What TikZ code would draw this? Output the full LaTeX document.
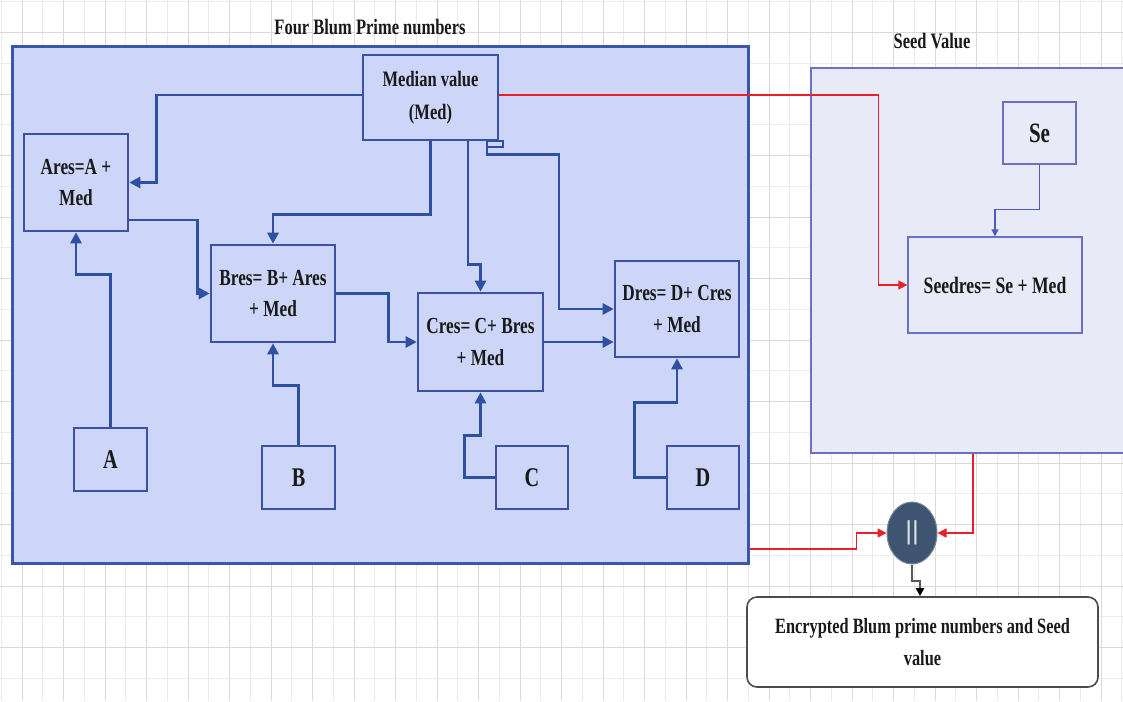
\documentclass[tikz,border=0pt]{standalone}
\usepackage{fontspec}
\setmainfont{Liberation Serif}
\newfontfamily\tnr[FakeStretch=0.75]{Liberation Serif}
\newfontfamily\lsans{Liberation Sans}
\usetikzlibrary{arrows.meta,calc,shapes.geometric}
\definecolor{bigfill}{RGB}{205,214,249}
\definecolor{bigdraw}{RGB}{60,86,168}
\definecolor{boxdraw}{RGB}{58,82,160}
\definecolor{conncol}{RGB}{46,80,160}
\definecolor{seedfill}{RGB}{232,234,247}
\definecolor{seeddraw}{RGB}{108,112,196}
\definecolor{seedconn}{RGB}{80,90,185}
\definecolor{redcol}{RGB}{232,32,42}
\definecolor{circfill}{RGB}{62,84,112}
\definecolor{textcol}{RGB}{25,25,25}
\definecolor{gridmaj}{RGB}{218,218,218}
\definecolor{gridmin}{RGB}{236,236,236}
\begin{document}
\begin{tikzpicture}[x=1pt,y=-1pt,
  txt/.style={font=\tnr\bfseries\fontsize{23}{31.5}\selectfont, text=textcol, align=center, inner sep=0pt},
  blubox/.style 2 args={txt, draw=boxdraw, fill=bigfill, line width=2.6pt, minimum width=#1, minimum height=#2},
  letterbox/.style={blubox={73}{63}, font=\tnr\bfseries\fontsize{27}{31}\selectfont},
  seedbx/.style 2 args={txt, draw=seeddraw, fill=seedfill, line width=1.4pt, minimum width=#1, minimum height=#2},
  conn/.style={draw=conncol, line width=2.7pt, -{Triangle[length=11pt,width=11pt]}},
  redconn/.style={draw=redcol, line width=1.6pt, -{Triangle[length=9pt,width=9pt]}},
  titletxt/.style={font=\tnr\bfseries\fontsize{22}{26}\selectfont, text=textcol, inner sep=0pt}
]
\useasboundingbox (0,0) rectangle (1123,701);
\clip (0,0) rectangle (1123,701);
\fill[white] (0,0) rectangle (1123,701);
% grid
\foreach \i in {0,...,54}{
  \pgfmathtruncatemacro{\odd}{mod(\i,2)}
  \ifnum\odd=1
    \draw[gridmaj, line width=0.8pt] ({1.25+\i*20.75},0) -- ({1.25+\i*20.75},701);
  \else
    \draw[gridmin, line width=0.8pt] ({1.25+\i*20.75},0) -- ({1.25+\i*20.75},701);
  \fi
}
\foreach \j in {0,...,22}{
  \pgfmathtruncatemacro{\odd}{mod(\j,2)}
  \ifnum\odd=1
    \draw[gridmaj, line width=0.8pt] (0,{1.7+\j*30.75}) -- (1123,{1.7+\j*30.75});
  \else
    \draw[gridmin, line width=0.8pt] (0,{1.7+\j*30.75}) -- (1123,{1.7+\j*30.75});
  \fi
}
% containers
\node[draw=bigdraw, fill=bigfill, line width=3pt, minimum width=736, minimum height=516, inner sep=0pt] (bigbox) at (380,305) {};
\node[draw=seeddraw, fill=seedfill, line width=1.5pt, minimum width=324, minimum height=385, inner sep=0pt] (seedbox) at (973,260.5) {};
\node[titletxt] (title1) at (370,27) {Four Blum Prime numbers};
\node[titletxt] (title2) at (932,41) {Seed Value};
% inner nodes
\node[blubox={135}{85}, font=\tnr\bfseries\fontsize{22}{33}\selectfont] (Med) at (430.5,97.5) {Median value\\(Med)};
\node[blubox={104}{97}] (Ares) at (76,182.5) {Ares=A +\\Med};
\node[blubox={124}{97}] (Bres) at (273,293.5) {Bres= B+ Ares\\+ Med};
\node[blubox={125}{98}] (Cres) at (480.5,342) {Cres= C+ Bres\\+ Med};
\node[blubox={124}{96}] (Dres) at (677,309) {Dres= D+ Cres\\+ Med};
\node[letterbox] (A) at (110.5,459.5) {A};
\node[letterbox] (B) at (298.5,477.5) {B};
\node[letterbox, minimum width=72] (C) at (532,477.5) {C};
\node[letterbox, minimum width=72] (D) at (703,477.5) {D};
\node[seedbx={73}{62}, font=\tnr\bfseries\fontsize{28}{32}\selectfont] (Se) at (1039.5,133) {Se};
\node[seedbx={174}{96}, font=\tnr\bfseries\fontsize{23.5}{31}\selectfont] (Seedres) at (995,285) {Seedres= Se + Med};
\node[ellipse, fill=circfill, draw=circfill!70!white, line width=1pt, minimum width=50, minimum height=62, inner sep=0pt, font=\lsans\fontsize{26}{26}\selectfont, text=gray!25] (circ) at (912,533) {||};
\node[draw=black!70, fill=white, line width=1.6pt, rounded corners=10pt, minimum width=351, minimum height=90, inner sep=0pt, txt, font=\tnr\bfseries\fontsize{21.8}{32}\selectfont] (enc) at (922.5,642) {Encrypted Blum prime numbers and Seed\\value};
% blue connectors
\draw[conn] ([yshift=2.5pt]Med.west) -- ++(-205,0) |- (Ares.east);
\draw[conn] (Med.south) -- ++(0,73) -| (Bres.north);
\draw[conn] ([xshift=37.5pt]Med.south) -- ++(0,123) -| (Cres.north);
\draw[draw=conncol, line width=2pt] ([xshift=56.5pt]Med.south) rectangle ++(16,6);
\draw[conn] ([xshift=56.5pt]Med.south) -- ++(0,13) -- ++(72,0) |- (Dres.west);
\draw[conn] ([yshift=-37.5pt]Ares.east) -- ++(68,0) |- (Bres.west);
\draw[conn] (Bres.east) -- ++(52,0) |- (Cres.west);
\draw[conn] (Cres.east) -- (Cres.east -| Dres.west);
\draw[conn] (A.north) -- ++(0,-152) -| (Ares.south);
\draw[conn] (B.north) -- ++(0,-59) -| (Bres.south);
\draw[conn] (C.west) -- ++(-30,0) -- ++(0,-42) -| (Cres.south);
\draw[conn] (D.west) -- ++(-31,0) -- ++(0,-75) -| (Dres.south);
% seed connectors
\draw[draw=seedconn, line width=1.3pt, -{Triangle[length=7pt,width=7pt]}] (Se.south) -- ++(0,45) -| (Seedres.north);
\draw[redconn] ([yshift=2.5pt]Med.east) -- ++(379,0) |- (Seedres.west);
\draw[redconn] (seedbox.south) |- (circ.east);
\draw[redconn] ([yshift=-244pt]bigbox.east) -- ++(107,0) |- (circ.west);
\draw[draw=gray!70!black, line width=2pt, -{Triangle[length=8pt,width=8pt,color=black]}] (circ.south) -- ++(0,16) -| ([xshift=-2.5pt]enc.north);
\end{tikzpicture}
\end{document}
